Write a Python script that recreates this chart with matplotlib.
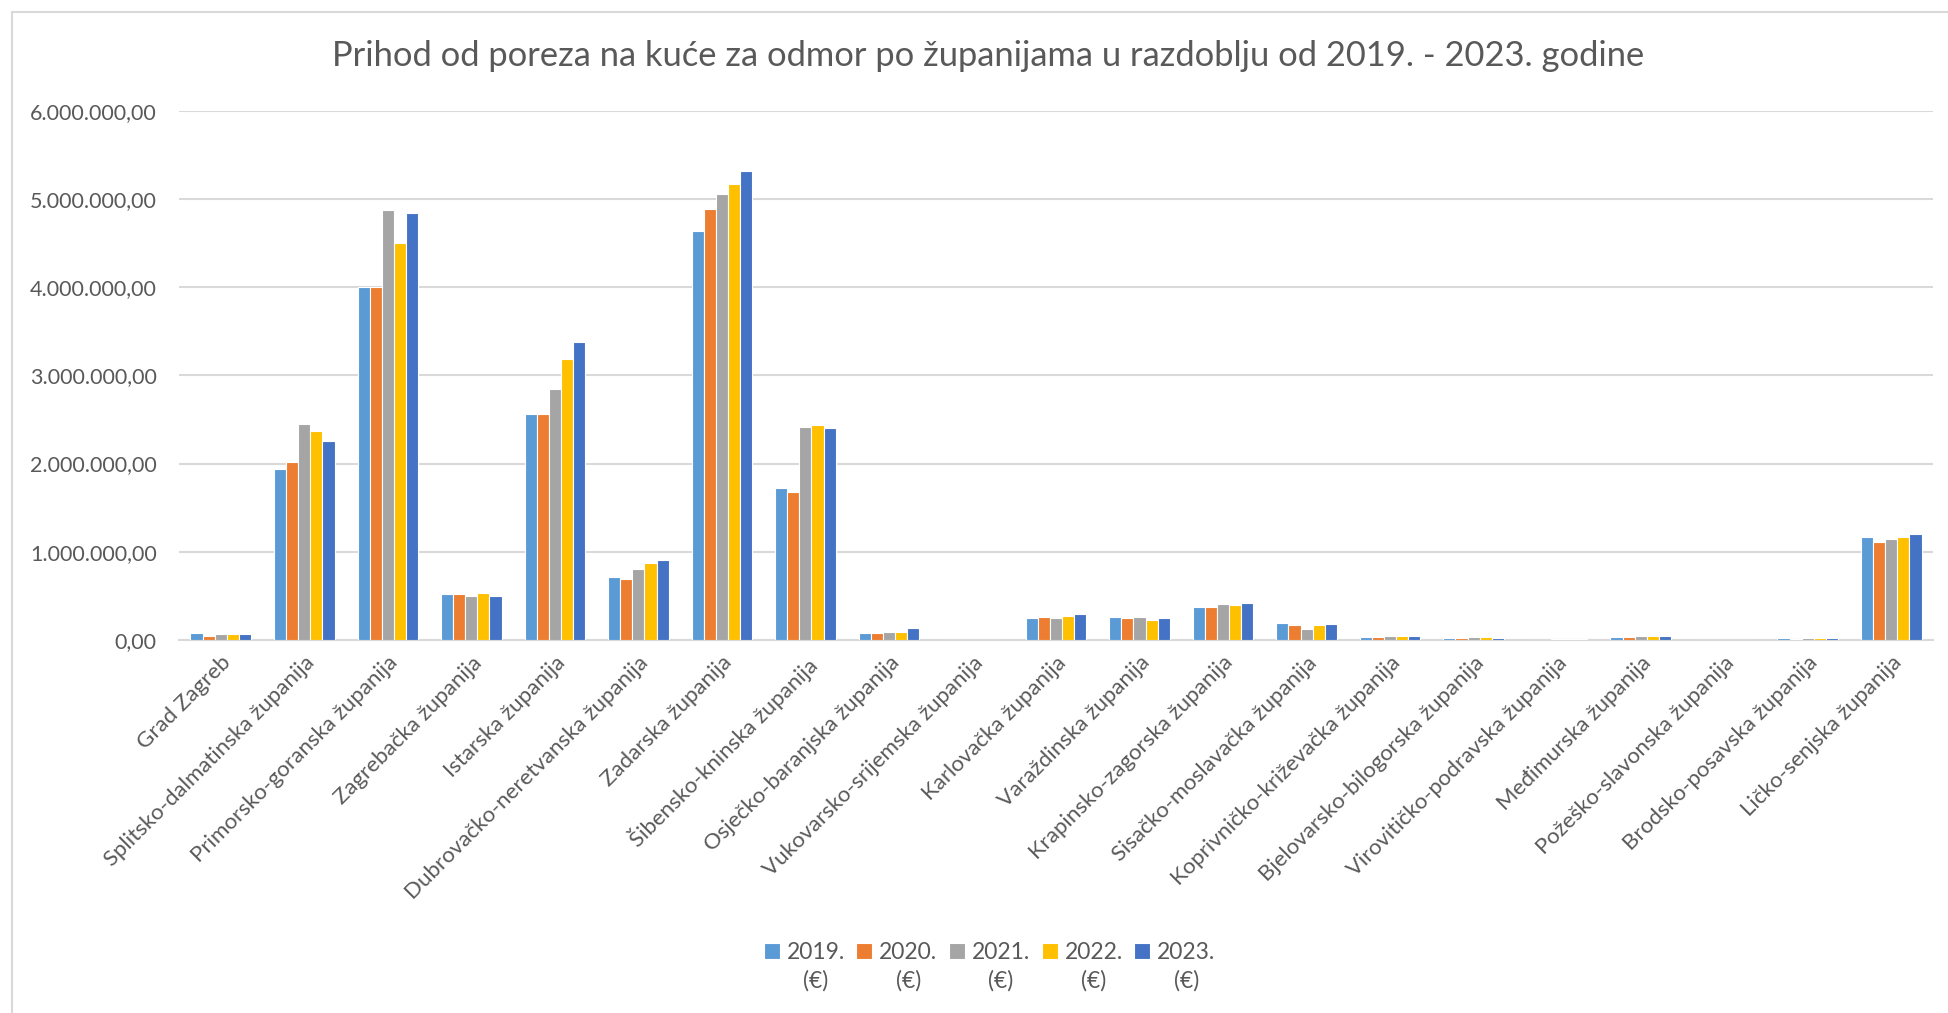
import matplotlib
matplotlib.use("Agg")
import matplotlib.pyplot as plt
import numpy as np
from matplotlib.patches import Rectangle
from matplotlib.container import BarContainer
from matplotlib.legend_handler import HandlerPatch, update_from_first_child
from matplotlib.ticker import FuncFormatter

plt.rcParams['font.family'] = ['Lato', 'DejaVu Sans']

counties = [
    "Grad Zagreb", "Splitsko-dalmatinska županija", "Primorsko-goranska županija",
    "Zagrebačka županija", "Istarska županija", "Dubrovačko-neretvanska županija",
    "Zadarska županija", "Šibensko-kninska županija", "Osječko-baranjska županija",
    "Vukovarsko-srijemska županija", "Karlovačka županija", "Varaždinska županija",
    "Krapinsko-zagorska županija", "Sisačko-moslavačka županija",
    "Koprivničko-križevačka županija", "Bjelovarsko-bilogorska županija",
    "Virovitičko-podravska županija", "Međimurska županija",
    "Požeško-slavonska županija", "Brodsko-posavska županija", "Ličko-senjska županija",
]
years = ["2019.\n(€)", "2020.\n(€)", "2021.\n(€)", "2022.\n(€)", "2023.\n(€)"]

v2019 = [75000, 1940000, 4000000, 517000, 2560000, 714000, 4640000, 1720000, 83000, 0,
         248000, 258000, 376000, 190000, 38000, 26000, 2000, 35000, 0, 19000, 1168000]
v2020 = [45000, 2020000, 4000000, 520000, 2560000, 695000, 4890000, 1680000, 85000, 0,
         262000, 251000, 376000, 172000, 38000, 23000, 3000, 35000, 0, 15000, 1108000]
v2021 = [68000, 2450000, 4870000, 500000, 2850000, 805000, 5060000, 2410000, 94000, 0,
         253000, 257000, 410000, 125000, 44000, 30000, 8000, 42000, 0, 23000, 1150000]
v2022 = [70000, 2370000, 4500000, 530000, 3190000, 869000, 5170000, 2440000, 96000, 0,
         273000, 228000, 400000, 166000, 45000, 30000, 8000, 45000, 0, 19000, 1172000]
v2023 = [68000, 2260000, 4840000, 500000, 3380000, 910000, 5310000, 2400000, 139000, 0,
         292000, 251000, 423000, 180000, 45000, 26000, 13000, 45000, 0, 23000, 1206000]
series = [v2019, v2020, v2021, v2022, v2023]
colors = ["#5B9BD5", "#ED7D31", "#A5A5A5", "#FFC000", "#4472C4"]

text_col = "#595959"
grid_col = "#D9D9D9"

fig = plt.figure(figsize=(19.48, 10.13), dpi=100)
ax = fig.add_axes([179 / 1948, 1 - 640 / 1013, (1933 - 179) / 1948, (640 - 110.6) / 1013])

x = np.arange(len(counties))
slot = 0.145
for i, (vals, c) in enumerate(zip(series, colors)):
    ax.bar(x + (i - 2) * slot, vals, width=slot, color=c, edgecolor="white",
           linewidth=0.8, label=years[i], zorder=3)

ax.set_xlim(-0.5, len(counties) - 0.5)
ax.set_ylim(0, 6000000)
ax.set_yticks(np.arange(0, 6000001, 1000000))
ax.yaxis.set_major_formatter(FuncFormatter(
    lambda v, p: f"{v:,.2f}".replace(",", "X").replace(".", ",").replace("X", ".")))
ax.grid(axis="y", color=grid_col, linewidth=1.5, zorder=0)
for s in ["top", "right", "left"]:
    ax.spines[s].set_visible(False)
ax.spines["bottom"].set_color(grid_col)
ax.spines["bottom"].set_linewidth(1.5)
ax.tick_params(axis="y", length=0, pad=16, labelsize=15.5, labelcolor=text_col)
ax.tick_params(axis="x", length=0, pad=9, labelsize=16, labelcolor=text_col)
ax.set_xticks(x)
ax.set_xticklabels(counties, rotation=45, ha="right", va="top", rotation_mode="anchor")

fig.text(0.507, 0.945, "Prihod od poreza na kuće za odmor po županijama u razdoblju od 2019. - 2023. godine",
         ha="center", va="center", fontsize=24.8, color=text_col)


# legend square sits next to the first line of the two-line label
def top_square(legend, orig_handle, xdescent, ydescent, width, height, fontsize):
    return Rectangle((-xdescent, -ydescent + 0.7 * fontsize), width, height)


leg = fig.legend(loc="center", bbox_to_anchor=(0.508, 0.046), ncol=5, frameon=False,
                 fontsize=16.5, handlelength=0.7, handleheight=0.7, handletextpad=0.3,
                 columnspacing=0.5, labelcolor=text_col,
                 handler_map={BarContainer: HandlerPatch(patch_func=top_square,
                                                         update_func=update_from_first_child)})
for t in leg.get_texts():
    t.set_multialignment("center")
    t.set_linespacing(1.4)

fig.patches.append(Rectangle((12 / 1948, -0.1), 2, 1.1 - 12 / 1013, transform=fig.transFigure,
                             fill=False, edgecolor=grid_col, linewidth=1.5))

fig.savefig("out.png", dpi=100, facecolor="white")
